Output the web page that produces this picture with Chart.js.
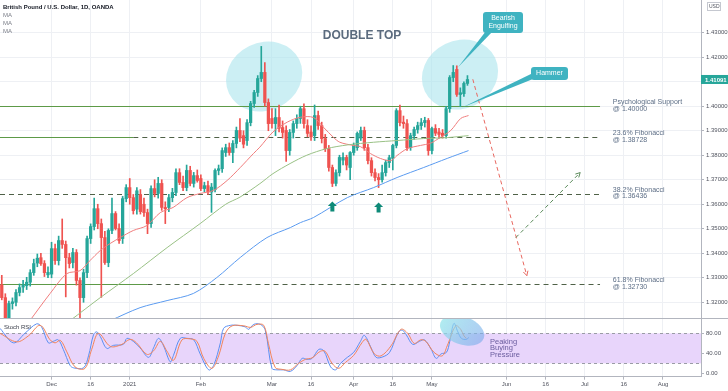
<!DOCTYPE html>
<html>
<head>
<meta charset="utf-8">
<script src="https://cdn.jsdelivr.net/npm/chart.js@4.4.0/dist/chart.umd.min.js"></script>
<style>
  html, body { margin: 0; padding: 0; background: #fff; }
  canvas { display: block; }
</style>
</head>
<body>
<canvas id="chart" width="728" height="391"></canvas>
<script>
// Daily GBP/USD candles, one per trading day from 2020-11-11
const startDate = "2020-11-11";
const endDate = "2021-08-20";
const holidays = ["2020-12-25", "2021-01-01"];

const opens = [1.3271,1.3219,1.3125,1.3195,1.3200,1.3240,1.3262,1.3268,1.3282,1.3321,1.3360,1.3382,1.3358,1.3312,1.3315,1.3419,1.3370,1.3452,1.3436,1.3382,
  1.3362,1.3403,1.3289,1.3219,1.3321,1.3460,1.3509,1.3582,1.3521,1.3464,1.3362,1.3493,1.3562,1.3501,1.3460,1.3623,1.3668,1.3627,1.3580,1.3640,
  1.3600,1.3566,1.3521,1.3664,1.3644,1.3685,1.3587,1.3587,1.3627,1.3648,1.3729,1.3689,1.3668,1.3738,1.3685,1.3717,1.3705,1.3664,1.3676,1.3650,
  1.3660,1.3738,1.3745,1.3811,1.3831,1.3811,1.3848,1.3901,1.3880,1.3860,1.3933,1.4011,1.4056,1.4113,1.4138,1.4015,1.3950,1.3929,1.3954,1.3913,
  1.3901,1.3819,1.3893,1.3929,1.3950,1.3990,1.3921,1.3895,1.3880,1.3962,1.3921,1.3868,1.3827,1.3750,1.3685,1.3729,1.3780,1.3791,1.3750,1.3811,
  1.3831,1.3870,1.3901,1.3831,1.3778,1.3729,1.3709,1.3700,1.3729,1.3770,1.3787,1.3840,1.3982,1.3935,1.3929,1.3831,1.3880,1.3905,1.3921,1.3933,
  1.3942,1.3819,1.3909,1.3895,1.3890,1.3880,1.3990,1.4117,1.4150,1.4048,1.4051,1.4093];
const highs = [1.3310,1.3235,1.3205,1.3218,1.3252,1.3275,1.3290,1.3302,1.3333,1.3376,1.3397,1.3400,1.3370,1.3345,1.3445,1.3437,1.3470,1.3540,1.3450,1.3400,
  1.3420,1.3415,1.3300,1.3335,1.3470,1.3520,1.3625,1.3600,1.3540,1.3490,1.3500,1.3625,1.3570,1.3520,1.3632,1.3680,1.3705,1.3640,1.3668,1.3660,
  1.3625,1.3580,1.3675,1.3700,1.3710,1.3700,1.3610,1.3640,1.3665,1.3745,1.3745,1.3715,1.3760,1.3755,1.3730,1.3740,1.3720,1.3690,1.3695,1.3685,
  1.3745,1.3760,1.3830,1.3845,1.3850,1.3860,1.3915,1.3950,1.3900,1.3945,1.4020,1.4065,1.4125,1.4244,1.4178,1.4030,1.3990,1.3990,1.4005,1.3940,
  1.3920,1.3905,1.3940,1.3965,1.4000,1.4010,1.3945,1.3920,1.4005,1.3980,1.3935,1.3885,1.3840,1.3760,1.3740,1.3800,1.3810,1.3800,1.3815,1.3850,
  1.3895,1.3915,1.3915,1.3845,1.3790,1.3745,1.3725,1.3760,1.3780,1.3800,1.3845,1.3990,1.4005,1.3960,1.3945,1.3890,1.3915,1.3935,1.3950,1.3955,
  1.3950,1.3915,1.3925,1.3910,1.3905,1.4000,1.4125,1.4166,1.4165,1.4075,1.4100,1.4125];
const lows = [1.3210,1.3108,1.3110,1.3172,1.3185,1.3226,1.3240,1.3252,1.3266,1.3310,1.3345,1.3350,1.3305,1.3300,1.3300,1.3355,1.3352,1.3420,1.3222,1.3340,
  1.3340,1.3270,1.3135,1.3200,1.3300,1.3440,1.3495,1.3500,1.3220,1.3355,1.3345,1.3480,1.3495,1.3440,1.3440,1.3610,1.3600,1.3560,1.3560,1.3560,
  1.3550,1.3480,1.3505,1.3630,1.3625,1.3575,1.3521,1.3570,1.3610,1.3635,1.3680,1.3655,1.3655,1.3675,1.3670,1.3690,1.3655,1.3650,1.3640,1.3567,
  1.3650,1.3720,1.3730,1.3795,1.3800,1.3770,1.3830,1.3855,1.3830,1.3840,1.3920,1.3995,1.4040,1.4100,1.4000,1.3900,1.3910,1.3880,1.3895,1.3870,
  1.3775,1.3800,1.3870,1.3910,1.3930,1.3910,1.3875,1.3860,1.3860,1.3905,1.3850,1.3815,1.3735,1.3672,1.3675,1.3715,1.3760,1.3740,1.3700,1.3800,
  1.3820,1.3860,1.3820,1.3765,1.3715,1.3695,1.3668,1.3690,1.3715,1.3750,1.3740,1.3830,1.3920,1.3910,1.3820,1.3820,1.3865,1.3890,1.3905,1.3915,
  1.3800,1.3805,1.3880,1.3870,1.3870,1.3870,1.3975,1.4100,1.4040,1.3998,1.4040,1.4085];
const closes = [1.3219,1.3125,1.3195,1.3202,1.3240,1.3260,1.3270,1.3282,1.3321,1.3358,1.3380,1.3358,1.3321,1.3322,1.3419,1.3370,1.3452,1.3436,1.3382,1.3358,
  1.3403,1.3289,1.3219,1.3321,1.3460,1.3509,1.3582,1.3521,1.3464,1.3362,1.3493,1.3562,1.3501,1.3452,1.3623,1.3668,1.3627,1.3574,1.3655,1.3570,
  1.3566,1.3521,1.3664,1.3644,1.3685,1.3587,1.3582,1.3627,1.3648,1.3729,1.3689,1.3668,1.3738,1.3685,1.3717,1.3697,1.3664,1.3676,1.3650,1.3670,
  1.3738,1.3745,1.3819,1.3831,1.3811,1.3848,1.3901,1.3870,1.3845,1.3933,1.4011,1.4056,1.4113,1.4138,1.4015,1.3929,1.3929,1.3954,1.3910,1.3893,
  1.3819,1.3893,1.3929,1.3950,1.3990,1.3929,1.3889,1.3875,1.3962,1.3921,1.3868,1.3827,1.3750,1.3685,1.3729,1.3791,1.3791,1.3760,1.3811,1.3840,
  1.3889,1.3901,1.3831,1.3778,1.3729,1.3709,1.3700,1.3729,1.3770,1.3790,1.3840,1.3982,1.3933,1.3929,1.3831,1.3880,1.3905,1.3921,1.3933,1.3942,
  1.3819,1.3909,1.3890,1.3885,1.3880,1.3990,1.4117,1.4138,1.4048,1.4055,1.4093,1.4109];

// Moving averages: [bar position, price]
const maFast = [[7.9,1.3125],[13.6,1.3236],[18.3,1.3317],[22,1.3329],[24.8,1.3370],[27.7,1.3411],[30.5,1.3440],[33.3,1.3464],[37,1.3493],[40.8,1.3513],
  [44.6,1.3566],[48.2,1.3587],[52.1,1.3627],[55.8,1.3644],[59.5,1.3656],[63.4,1.3697],[67.1,1.3750],[70.8,1.3807],[72.6,1.3833],[76.3,1.3895],[80.3,1.3935],
  [84,1.3955],[87.7,1.3954],[90.5,1.3914],[93.3,1.3873],[95.1,1.3853],[98.8,1.3840],[100.9,1.3835],[103.7,1.3807],[106.5,1.3787],[109.4,1.3778],
  [111.2,1.3799],[114.1,1.3827],[117.8,1.3840],[120.6,1.3849],[123.4,1.3873],[126.3,1.3901],[129.1,1.3950],[131.3,1.3962]];
const maMid = [[19.2,1.3125],[27.7,1.3219],[37,1.3317],[46.5,1.3423],[55.8,1.3521],[63,1.3600],[67,1.3629],[72.6,1.3684],[76.3,1.3725],[81.1,1.3766],
  [85.8,1.3800],[91.4,1.3827],[97.2,1.3842],[104.6,1.3853],[111.2,1.3860],[118.7,1.3868],[125.3,1.3872],[131.3,1.3880]];
const maSlow = [[30.5,1.3125],[38.9,1.3178],[46.5,1.3207],[53.9,1.3236],[60.5,1.3301],[67.1,1.3383],[74.6,1.3464],[81.2,1.3505],[84,1.3525],
  [87.7,1.3546],[97.2,1.3627],[104.6,1.3668],[111.2,1.3709],[118.7,1.3750],[125.3,1.3787],[131.3,1.3819]];

// Stoch RSI lines: [bar position, value]
const stochK = [[-0.5,90],[3.3,61],[6.5,80],[9.8,99],[11.2,93],[13.1,61],[14.5,64],[15.9,67],[17.3,48],[19.2,16],[20.2,11],[23,11],[24.4,35],[25.8,77],
  [26.7,83],[27.7,74],[29.5,50],[31.4,56],[34.2,58],[35.2,70],[37,64],[38.9,51],[41.3,32],[42.7,51],[44.1,70],[45.5,55],[47.4,23],[48.3,36],[50.2,70],
  [52.1,70],[54,67],[55.8,39],[58.2,7],[59.6,16],[61.5,61],[62.4,90],[64.3,96],[66.2,96],[68.5,93],[69.4,88],[70.9,98],[72.7,98],[74.1,87],[76,10],
  [77.4,7],[79.3,7],[81.2,4],[83.1,16],[84.5,30],[85.9,28],[87.3,30],[89.2,48],[90.6,45],[92.5,13],[93.9,7],[95.3,20],[97.2,32],[99,42],[100.9,64],
  [102,76],[103.9,51],[105.3,32],[107.2,33],[109.1,42],[111,74],[111.9,85],[112.8,86],[113.8,77],[115.6,58],[117.5,64],[118.9,67],[120.8,48],
  [122.2,30],[123.6,39],[125.1,42],[126,63],[127.2,100],[128.3,83],[129.3,70],[130.7,68],[131.4,72]];
const stochD = [[-0.5,80],[4.2,63],[7.5,75],[10.8,96],[13.6,67],[15,61],[16.5,66],[18.3,43],[20.6,13],[23.4,10],[25.3,48],[27.2,80],[30.5,54],[33.5,57],
  [36.1,68],[37.9,61],[40.8,38],[42.7,45],[44.6,64],[46.4,45],[48.3,26],[50.7,67],[53,69],[54.9,64],[56.8,30],[59.1,10],[61,35],[62.9,80],[64.8,95],
  [68.1,95],[70,92],[71.8,98],[73.7,96],[75,60],[76.9,12],[78.8,8],[81.2,7],[83.5,20],[85.4,28],[87.3,31],[89.6,44],[91,44],[92.9,20],[94.8,10],
  [96.7,22],[99,36],[101.4,62],[102.5,68],[104.8,39],[106.7,35],[109.5,55],[112.3,88],[114.2,80],[116,60],[117.9,67],[119.3,64],[121.6,42],[123.9,35],
  [125.3,55],[127.7,95],[129.1,88],[130,75],[130.7,70]];

const priceTicks = [1.32, 1.33, 1.34, 1.35, 1.36, 1.37, 1.38, 1.39, 1.40, 1.41, 1.42, 1.43];
const stochTicks = [0, 40, 80];
const tickDates = ["2020-12-01","2020-12-16","2021-01-04","2021-02-01","2021-03-01","2021-03-16","2021-04-01","2021-04-16",
  "2021-05-03","2021-06-01","2021-06-16","2021-07-01","2021-07-16","2021-08-02"];
const tickTexts = ["Dec","16","2021","Feb","Mar","16","Apr","16","May","Jun","16","Jul","16","Aug"];

const fibLevels = [1.40000, 1.38728, 1.36436, 1.32730];
const fibNames = ["Psychological Support", "23.6% Fibonacci", "38.2% Fibonacci", "61.8% Fibonacci"];
const fibSolidTo = [168.3, 37, -0.5, 41];  // bar where the solid part stops, dashed after
const lastPrice = 1.41091;

// drawings in chart units: [bar, price]
const topCircles = [[73.8, 1.4121], [128.9, 1.4129]];
const supportArrows = [93, 106];
const projDown = [[132.5, 1.4110], [147.7, 1.3309]];
const projUp = [[144.6, 1.3464], [162.7, 1.3729]];

function tradingDays(from, to, skip) {
  const out = [];
  const d = new Date(from + "T00:00:00Z");
  const end = new Date(to + "T00:00:00Z");
  while (d <= end) {
    const s = d.toISOString().slice(0, 10);
    const wd = d.getUTCDay();
    if (wd !== 0 && wd !== 6 && !skip.includes(s)) out.push(s);
    d.setUTCDate(d.getUTCDate() + 1);
  }
  return out;
}
const days = tradingDays(startDate, endDate, holidays);
const tickIndex = tickDates.map(s => days.indexOf(s));

const UP = "#26a69a", DOWN = "#ef5350";
const candleColor = ctx => closes[ctx.dataIndex] >= opens[ctx.dataIndex] ? UP : DOWN;
const FONT = "'Liberation Sans', Arial, sans-serif";

const wicks = opens.map((o, i) => ({ x: i, y: [lows[i], highs[i]] }));
const bodies = opens.map((o, i) => ({ x: i, y: [Math.min(o, closes[i]), Math.max(o, closes[i])] }));
const pts = arr => arr.map(p => ({ x: p[0], y: p[1] }));

function ellipse(ctx, cx, cy, rx, ry, rot, fill) {
  ctx.beginPath();
  ctx.ellipse(cx, cy, rx, ry, rot, 0, Math.PI * 2);
  ctx.fillStyle = fill;
  ctx.fill();
}

function arrowHead(ctx, x0, y0, x1, y1, size, color) {
  const a = Math.atan2(y1 - y0, x1 - x0);
  ctx.beginPath();
  ctx.moveTo(x1 - size * Math.cos(a - 0.5), y1 - size * Math.sin(a - 0.5));
  ctx.lineTo(x1, y1);
  ctx.lineTo(x1 - size * Math.cos(a + 0.5), y1 - size * Math.sin(a + 0.5));
  ctx.strokeStyle = color;
  ctx.setLineDash([]);
  ctx.stroke();
}

function callout(ctx, box, tip, base, lines) {
  ctx.fillStyle = "#3fb3c1";
  ctx.beginPath();
  ctx.moveTo(base[0][0], base[0][1]);
  ctx.lineTo(tip[0], tip[1]);
  ctx.lineTo(base[1][0], base[1][1]);
  ctx.closePath();
  ctx.fill();
  ctx.beginPath();
  ctx.roundRect(box[0], box[1], box[2], box[3], 3);
  ctx.fill();
  ctx.fillStyle = "#fff";
  ctx.font = "7px " + FONT;
  ctx.textAlign = "center";
  ctx.textBaseline = "middle";
  const cy = box[1] + box[3] / 2;
  lines.forEach((t, k) => ctx.fillText(t, box[0] + box[2] / 2, cy + (k - (lines.length - 1) / 2) * 8));
}

const noPad = s => { s.paddingTop = 0; s.paddingBottom = 0; s.paddingLeft = 0; s.paddingRight = 0; };

const decor = {
  id: "decor",
  beforeDatasetsDraw(chart) {
    const { ctx, chartArea } = chart;
    const x = chart.scales.x, y = chart.scales.y, y2 = chart.scales.y2;
    ctx.save();
    // stoch band
    const b80 = y2.getPixelForValue(80), b20 = y2.getPixelForValue(20);
    ctx.fillStyle = "rgb(232, 213, 251)";
    ctx.fillRect(chartArea.left, b80, chartArea.right - chartArea.left, b20 - b80);
    ctx.strokeStyle = "#9a9ca5";
    ctx.lineWidth = 1;
    ctx.setLineDash([3, 3]);
    [b80, b20].forEach(v => {
      ctx.beginPath();
      ctx.moveTo(chartArea.left, Math.round(v) + 0.5);
      ctx.lineTo(chartArea.right, Math.round(v) + 0.5);
      ctx.stroke();
    });
    ctx.setLineDash([]);
    // circles around the two tops
    ctx.save();
    ctx.beginPath();
    ctx.rect(chartArea.left, y.top, chartArea.right, y.bottom - y.top);
    ctx.clip();
    topCircles.forEach(c => {
      const cx = x.getPixelForValue(c[0]), cy = y.getPixelForValue(c[1]);
      ellipse(ctx, cx, cy, 39, 34, -0.45, "rgba(170, 228, 236, 0.6)");
    });
    ctx.restore();
    // fibonacci / support lines
    const lineEnd = x.getPixelForValue(168.3);
    fibLevels.forEach((lv, k) => {
      const py = Math.round(y.getPixelForValue(lv)) + 0.5;
      const solidEnd = x.getPixelForValue(fibSolidTo[k]);
      ctx.lineWidth = 1;
      if (solidEnd > chartArea.left) {
        ctx.strokeStyle = "#5d9a47";
        ctx.setLineDash([]);
        ctx.beginPath();
        ctx.moveTo(chartArea.left, py);
        ctx.lineTo(solidEnd, py);
        ctx.stroke();
      }
      if (solidEnd < lineEnd) {
        ctx.strokeStyle = "#4f6147";
        ctx.setLineDash([5, 4]);
        ctx.beginPath();
        ctx.moveTo(Math.max(solidEnd, chartArea.left), py);
        ctx.lineTo(lineEnd, py);
        ctx.stroke();
      }
    });
    ctx.restore();
  },
  beforeDatasetDraw(chart, args) {
    const { ctx, chartArea } = chart;
    const s = chart.scales[args.meta.yAxisID];
    ctx.save();
    ctx.beginPath();
    ctx.rect(chartArea.left, s.top, chartArea.right - chartArea.left, s.bottom - s.top);
    ctx.clip();
  },
  afterDatasetDraw(chart) {
    chart.ctx.restore();
  },
  afterDatasetsDraw(chart) {
    const { ctx, chartArea } = chart;
    const x = chart.scales.x, y = chart.scales.y, y2 = chart.scales.y2;
    const P = (i, p) => [x.getPixelForValue(i), y.getPixelForValue(p)];
    ctx.save();

    // stoch highlight
    const sx = x.getPixelForValue(129.5), sy = y2.getPixelForValue(86);
    const g = ctx.createLinearGradient(sx - 20, sy - 12, sx + 20, sy + 12);
    g.addColorStop(0, "rgba(150, 230, 235, 0.75)");
    g.addColorStop(1, "rgba(120, 170, 235, 0.6)");
    ctx.save();
    ctx.beginPath();
    ctx.rect(chartArea.left, y2.top, chartArea.right, y2.bottom - y2.top);
    ctx.clip();
    ellipse(ctx, sx, sy, 23, 14, 0.35, g);
    ctx.restore();

    // projection lines
    ctx.lineWidth = 1;
    const d0 = P(...projDown[0]), d1 = P(...projDown[1]);
    ctx.strokeStyle = "#e8675f";
    ctx.setLineDash([4, 3]);
    ctx.beginPath(); ctx.moveTo(...d0); ctx.lineTo(...d1); ctx.stroke();
    arrowHead(ctx, d0[0], d0[1], d1[0], d1[1], 5, "#e8675f");
    const u0 = P(...projUp[0]), u1 = P(...projUp[1]);
    ctx.strokeStyle = "#5a8a5a";
    ctx.setLineDash([4, 3]);
    ctx.beginPath(); ctx.moveTo(...u0); ctx.lineTo(...u1); ctx.stroke();
    arrowHead(ctx, u0[0], u0[1], u1[0], u1[1], 5, "#5a8a5a");

    // support arrows under the two lows
    ctx.fillStyle = "#0e8a78";
    supportArrows.forEach(i => {
      const ax = x.getPixelForValue(i), ay = y.getPixelForValue(lows[i]) + 15;
      ctx.beginPath();
      ctx.moveTo(ax, ay);
      ctx.lineTo(ax + 4.5, ay + 4.5);
      ctx.lineTo(ax + 2, ay + 4.5);
      ctx.lineTo(ax + 2, ay + 10);
      ctx.lineTo(ax - 2, ay + 10);
      ctx.lineTo(ax - 2, ay + 4.5);
      ctx.lineTo(ax - 4.5, ay + 4.5);
      ctx.closePath();
      ctx.fill();
    });

    // callouts
    const tipBE = P(128.3, 1.4158);
    callout(ctx, [483, 12, 40, 21], tipBE, [[486, 31], [493, 31]], ["Bearish", "Engulfing"]);
    const tipH = P(129.5, 1.3995);
    callout(ctx, [531, 67, 37, 13], tipH, [[533, 73], [533, 79]], ["Hammer"]);

    // texts
    ctx.textBaseline = "middle";
    ctx.textAlign = "center";
    ctx.fillStyle = "#5b6b7e";
    ctx.font = "bold 12px " + FONT;
    ctx.fillText("DOUBLE TOP", 362, 36);

    ctx.textAlign = "left";
    ctx.font = "7px " + FONT;
    ctx.fillStyle = "#5d6e86";
    const lx = x.getPixelForValue(171.9);
    fibLevels.forEach((lv, k) => {
      const py = y.getPixelForValue(lv);
      ctx.fillText(fibNames[k], lx, py - 4);
      ctx.fillText("@ " + lv.toFixed(5), lx, py + 2.5);
    });

    ctx.fillStyle = "#6a5c9e";
    ctx.font = "7.5px " + FONT;
    ["Peaking", "Buying", "Pressure"].forEach((t, k) => ctx.fillText(t, 490, 341.5 + k * 6.5));

    ctx.fillStyle = "#131722";
    ctx.font = "bold 6px " + FONT;
    ctx.fillText("British Pound / U.S. Dollar, 1D, OANDA", 3, 7.5);
    ctx.font = "6px " + FONT;
    ctx.fillStyle = "#7a7d87";
    ["MA", "MA", "MA"].forEach((t, k) => ctx.fillText(t, 3, 15.5 + k * 7.8));
    ctx.fillStyle = "#3a3e4a";
    ctx.fillText("Stoch RSI", 4, y2.top + 9);

    // pane separator
    ctx.strokeStyle = "#b2b5be";
    ctx.lineWidth = 1;
    ctx.setLineDash([]);
    ctx.beginPath();
    ctx.moveTo(0, Math.round(y.bottom) + 0.5);
    ctx.lineTo(728, Math.round(y.bottom) + 0.5);
    ctx.stroke();

    // last price tag
    const lp = y.getPixelForValue(lastPrice);
    ctx.fillStyle = "#26a69a";
    ctx.fillRect(chartArea.right, lp - 4.5, 27, 9);
    ctx.fillStyle = "#fff";
    ctx.font = "bold 6px " + FONT;
    ctx.fillText(lastPrice.toFixed(5), chartArea.right + 4, lp + 0.5);

    // currency box
    ctx.strokeStyle = "#c5c8d0";
    ctx.strokeRect(707.5, 2.5, 13, 8);
    ctx.fillStyle = "#50535e";
    ctx.font = "5px " + FONT;
    ctx.fillText("USD", 709, 7);
    ctx.restore();
  }
};

new Chart(document.getElementById("chart"), {
  type: "bar",
  data: {
    datasets: [
      { type: "line", data: pts(maSlow), borderColor: "#5b9bf0", borderWidth: 1, pointRadius: 0, tension: 0.3, yAxisID: "y" },
      { type: "line", data: pts(maMid), borderColor: "#99c185", borderWidth: 1, pointRadius: 0, tension: 0.3, yAxisID: "y" },
      { type: "line", data: pts(maFast), borderColor: "#f07d7d", borderWidth: 1, pointRadius: 0, tension: 0.3, yAxisID: "y" },
      { data: wicks, backgroundColor: candleColor, barThickness: 1, grouped: false, yAxisID: "y" },
      { data: bodies, backgroundColor: candleColor, barThickness: 2.6, minBarLength: 1, grouped: false, yAxisID: "y" },
      { type: "line", data: pts(stochD), borderColor: "#f2845a", borderWidth: 1, pointRadius: 0, tension: 0.35, yAxisID: "y2" },
      { type: "line", data: pts(stochK), borderColor: "#5b8ff2", borderWidth: 1, pointRadius: 0, tension: 0.35, yAxisID: "y2" }
    ]
  },
  options: {
    responsive: false,
    animation: false,
    layout: { padding: 0 },
    plugins: { legend: { display: false }, tooltip: { enabled: false } },
    scales: {
      x: {
        type: "linear",
        offset: false,
        min: -0.5,
        max: 196.7,
        afterBuildTicks: s => { s.ticks = tickIndex.map(v => ({ value: v })); },
        afterFit: s => { s.height = 14.3; noPad(s); },
        ticks: {
          autoSkip: false,
          maxRotation: 0,
          padding: 1,
          color: "#50535e",
          font: { size: 6, family: FONT },
          callback: (v) => tickTexts[tickIndex.indexOf(v)] || ""
        },
        grid: { offset: false, color: "#eef0f4", tickLength: 3, tickColor: "#b2b5be" },
        border: { color: "#b2b5be" }
      },
      y: {
        position: "right",
        stack: "panes",
        stackWeight: 318,
        min: 1.31359,
        max: 1.44334,
        afterBuildTicks: s => { s.ticks = priceTicks.map(v => ({ value: v })); },
        afterFit: s => { s.width = 27; noPad(s); },
        ticks: {
          padding: 2,
          color: "#50535e",
          font: { size: 6, family: FONT },
          callback: v => v.toFixed(5)
        },
        grid: { color: "#eef0f4", tickLength: 3, tickColor: "#b2b5be" },
        border: { color: "#b2b5be" }
      },
      y2: {
        position: "right",
        stack: "panes",
        stackWeight: 58.7,
        min: -6.7,
        max: 110.7,
        afterBuildTicks: s => { s.ticks = stochTicks.map(v => ({ value: v })); },
        afterFit: s => { s.width = 27; noPad(s); },
        ticks: {
          padding: 2,
          color: "#50535e",
          font: { size: 6, family: FONT },
          callback: v => v.toFixed(2)
        },
        grid: { drawOnChartArea: false, tickLength: 3, tickColor: "#b2b5be" },
        border: { color: "#b2b5be" }
      }
    }
  },
  plugins: [decor]
});
</script>
</body>
</html>
